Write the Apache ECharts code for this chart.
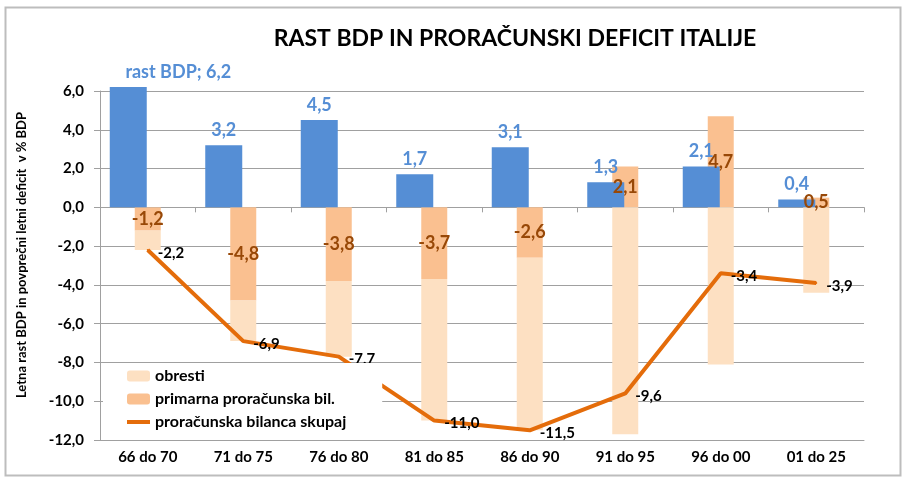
<!DOCTYPE html>
<html>
<head>
<meta charset="utf-8">
<script src="https://cdn.jsdelivr.net/npm/echarts@6/dist/echarts.min.js"></script>
<style>
  html, body { margin: 0; padding: 0; background: #fff; }
  #chart { width: 908px; height: 478px; }
</style>
</head>
<body>
<div id="chart"></div>
<script>
const categories = ["66 do 70", "71 do 75", "76 do 80", "81 do 85", "86 do 90", "91 do 95", "96 do 00", "01 do 25"];
const rastBdp = [6.2, 3.2, 4.5, 1.7, 3.1, 1.3, 2.1, 0.4];
const primarna = [-1.2, -4.8, -3.8, -3.7, -2.6, 2.1, 4.7, 0.5];
const obresti = [-1.0, -2.1, -3.9, -7.3, -8.9, -11.7, -8.1, -4.4];
const skupaj = [-2.2, -6.9, -7.7, -11.0, -11.5, -9.6, -3.4, -3.9];

const font = "Lato";
const fmt = v => Number(v).toFixed(1).replace(".", ",");

const chart = echarts.init(document.getElementById("chart"));

// first blue label carries the series name and sits moved to the right
const bdpData = rastBdp.map((v, i) => i === 0
    ? { value: v, label: { offset: [50, 0] } }
    : v);

const option = {
    animation: false,
    textStyle: { fontFamily: font },
    title: {
        text: "RAST BDP IN PRORAČUNSKI DEFICIT ITALIJE",
        left: 510, top: 22, textAlign: "center",
        textStyle: { fontFamily: font, fontSize: 23, fontWeight: "bold", color: "#000" }
    },
    graphic: [{
        type: "rect", left: 3, top: 5, z: -1,
        shape: { width: 895, height: 468 },
        style: { fill: "none", stroke: "#bdbdbd", lineWidth: 2 }
    }, {
        // y axis title, placed by hand because it is not centred on the plot
        type: "text", x: 22, y: 255, rotation: Math.PI / 2,
        style: {
            text: "Letna rast BDP in povprečni letni deficit  v % BDP",
            font: "bold 13px Lato", fill: "#000",
            align: "center", verticalAlign: "middle"
        }
    }],
    legend: {
        data: [
            { name: "obresti" },
            { name: "primarna proračunska bil." },
            { name: "proračunska bilanca skupaj", icon: "path://M0,0H23V4H0Z" }
        ],
        orient: "vertical",
        left: 103, top: 363,
        padding: [5, 36, 6, 24],
        itemGap: 7,
        itemWidth: 23, itemHeight: 11,
        backgroundColor: "#fff",
        textStyle: { fontFamily: font, fontSize: 16, fontWeight: "bold", color: "#000" }
    },
    grid: { left: 100, right: 44, top: 91, bottom: 38 },
    xAxis: [{
        type: "category",
        data: categories,
        position: "bottom",
        axisLine: { onZero: true, lineStyle: { color: "#a0a0a0" } },
        axisTick: { show: true, length: 5, lineStyle: { color: "#a0a0a0" } },
        axisLabel: { show: false }
    }, {
        type: "category",
        data: categories,
        position: "bottom",
        axisLine: { onZero: false, show: true, lineStyle: { color: "#a0a0a0" } },
        axisTick: { show: false },
        axisLabel: { fontFamily: font, fontSize: 15, fontWeight: "bold", color: "#000", margin: 10 }
    }],
    yAxis: {
        type: "value",
        min: -12, max: 6, interval: 2,
        axisLine: { show: true, lineStyle: { color: "#a0a0a0" } },
        axisTick: { show: true, length: 6, lineStyle: { color: "#a0a0a0" } },
        splitLine: { lineStyle: { color: "#a0a0a0" } },
        axisLabel: {
            formatter: v => fmt(v),
            fontFamily: font, fontSize: 15, fontWeight: "bold", color: "#000", margin: 16
        }
    },
    series: [{
        name: "primarna proračunska bil.",
        type: "bar",
        stack: "bil",
        xAxisIndex: 0,
        barWidth: 26,
        data: primarna,
        itemStyle: { color: "#fac090" },
        label: {
            show: true, position: "inside",
            formatter: p => fmt(p.value),
            fontFamily: font, fontSize: 18, fontWeight: "bold", color: "#984807"
        }
    }, {
        name: "obresti",
        type: "bar",
        stack: "bil",
        xAxisIndex: 0,
        barWidth: 26,
        data: obresti,
        itemStyle: { color: "#fde0c2" }
    }, {
        name: "rast BDP",
        type: "bar",
        xAxisIndex: 1,
        barWidth: 37,
        clip: false,
        data: bdpData,
        itemStyle: { color: "#558ed5" },
        label: {
            show: true, position: "top", distance: 6,
            formatter: p => (p.dataIndex === 0 ? "rast BDP; " : "") + fmt(p.value),
            fontFamily: font, fontSize: 18, fontWeight: "bold", color: "#558ed5"
        }
    }, {
        // empty column that pushes the blue bars left of the category centre
        name: "spacer",
        type: "bar",
        xAxisIndex: 1,
        barWidth: 39,
        barGap: 0,
        data: categories.map(() => null)
    }, {
        name: "proračunska bilanca skupaj",
        type: "line",
        xAxisIndex: 0,
        data: skupaj,
        symbol: "circle",
        symbolSize: 2,
        showSymbol: true,
        z: 3,
        lineStyle: { color: "#e46c0a", width: 4 },
        itemStyle: { color: "#e46c0a" },
        label: {
            show: true, position: "right", distance: 9, offset: [0, 3],
            formatter: p => fmt(p.value),
            fontFamily: font, fontSize: 15, fontWeight: "bold", color: "#000"
        }
    }]
};

chart.setOption(option);
</script>
</body>
</html>
